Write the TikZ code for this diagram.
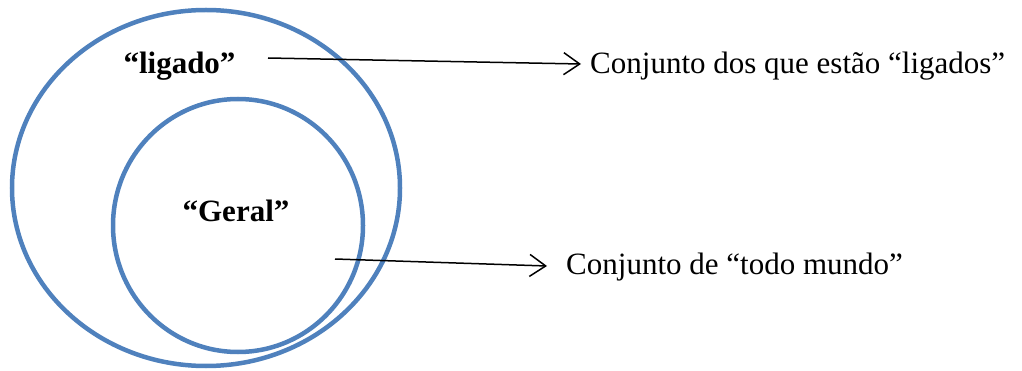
\documentclass[tikz,border=0pt]{standalone}
\usepackage{fontspec}
\setmainfont{Liberation Serif}
\usetikzlibrary{arrows.meta,shapes.geometric}
\definecolor{setblue}{HTML}{4F81BD}
\tikzset{
  setring/.style={draw=setblue, line width=4.5pt, ellipse, inner sep=0pt},
  lbl/.style={font=\fontsize{31}{36}\selectfont, anchor=base west, inner sep=0pt},
  setname/.style={font=\fontsize{31}{36}\selectfont\bfseries, anchor=base, inner sep=0pt},
  pointer/.style={line width=1.5pt, -{Straight Barb[length=16pt,width=22pt,line width=1.5pt]}}
}
\begin{document}
\begin{tikzpicture}[x=1pt,y=-1pt]
\useasboundingbox (0,0) rectangle (1022,371);
\node[setring, minimum width=388pt, minimum height=356pt] (outer) at (206,188) {};
\node[setring, minimum width=250pt, minimum height=253pt] (inner) at (238,225.5) {};
\node[setname] (ligado) at (179.5,74) {“ligado”};
\node[setname] (geral) at (236,222) {“Geral”};
\node[lbl] (t1) at (590,74) {Conjunto dos que estão “ligados”};
\node[lbl] (t2) at (566,275) {Conjunto de “todo mundo”};
\coordinate (s1) at (268,58);
\coordinate (e1) at (581,64);
\coordinate (s2) at (335,259);
\coordinate (e2) at (547,266);
\draw[pointer] (s1) -- (e1);
\draw[pointer] (s2) -- (e2);
\end{tikzpicture}
\end{document}
